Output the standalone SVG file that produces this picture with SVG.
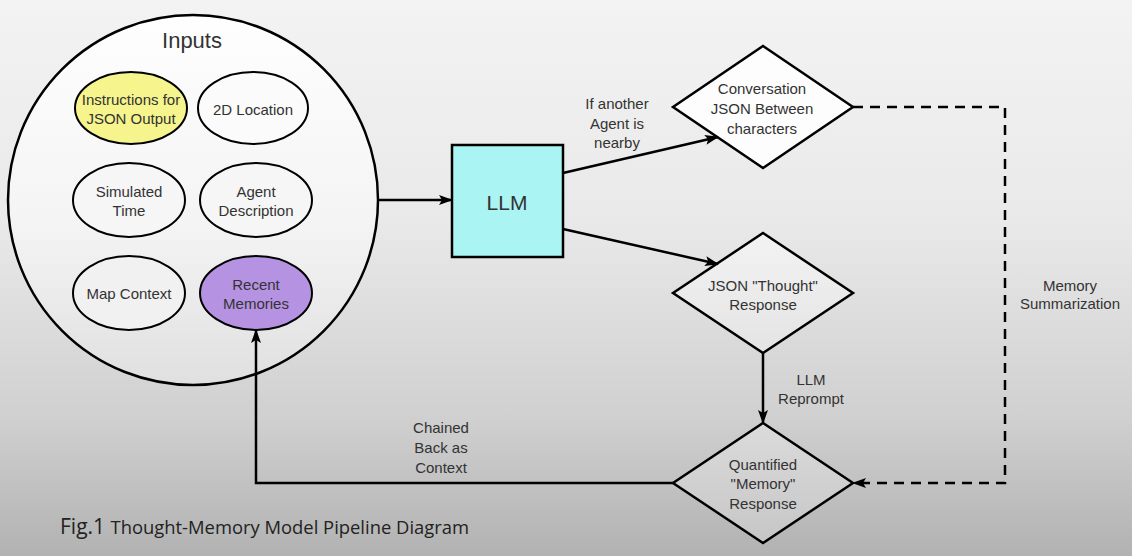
<svg xmlns="http://www.w3.org/2000/svg" width="1132" height="556" viewBox="0 0 1132 556">
<defs>
<linearGradient id="bg" gradientUnits="userSpaceOnUse" x1="0" y1="0" x2="0" y2="556">
<stop offset="0" stop-color="#f3f3f3"/>
<stop offset="0.4" stop-color="#e9e9e9"/>
<stop offset="0.75" stop-color="#d0d0d0"/>
<stop offset="1" stop-color="#b2b2b2"/>
</linearGradient>
<linearGradient id="shade" gradientUnits="userSpaceOnUse" x1="0" y1="0" x2="0" y2="556">
<stop offset="0" stop-color="#ffffff"/>
<stop offset="0.4" stop-color="#f4f4f4"/>
<stop offset="0.75" stop-color="#dcdcdc"/>
<stop offset="1" stop-color="#c4c4c4"/>
</linearGradient>
<marker id="arr" viewBox="0 0 14 10" refX="13" refY="5" markerWidth="14" markerHeight="10" markerUnits="userSpaceOnUse" orient="auto">
<path d="M0,0 L14,5 L0,10 L3,5 z" fill="#000"/>
</marker>
<style>
.shape{stroke:#000;stroke-width:2.5;}
.t{font-family:"Liberation Sans",Arial,sans-serif;font-size:15px;fill:#333;text-anchor:middle;}
.conn{fill:none;stroke:#000;stroke-width:2.5;marker-end:url(#arr);}
.dash{stroke-dasharray:10 7;}
</style>
</defs>
<rect x="0" y="0" width="1132" height="556" fill="url(#bg)"/>

<g id="inputs">
<circle class="shape" cx="193" cy="200" r="185" fill="url(#shade)"/>
<text class="t" x="192" y="48" style="font-size:22px">Inputs</text>
</g>
<g id="instructions">
<ellipse class="shape" cx="131" cy="108" rx="56" ry="36" fill="#f6f48c" style="stroke-width:2"/>
<text class="t" x="131" y="105">Instructions for</text>
<text class="t" x="131" y="124">JSON Output</text>
</g>
<g id="location">
<ellipse class="shape" cx="253" cy="108" rx="55" ry="36" fill="#fbfbfb" style="stroke-width:2"/>
<text class="t" x="253" y="114.5">2D Location</text>
</g>
<g id="time">
<ellipse class="shape" cx="129" cy="200" rx="56" ry="37" fill="#f6f6f6" style="stroke-width:2"/>
<text class="t" x="129" y="197">Simulated</text>
<text class="t" x="129" y="216">Time</text>
</g>
<g id="agent">
<ellipse class="shape" cx="256" cy="200" rx="56" ry="37" fill="#f6f6f6" style="stroke-width:2"/>
<text class="t" x="256" y="197">Agent</text>
<text class="t" x="256" y="216">Description</text>
</g>
<g id="map">
<ellipse class="shape" cx="129" cy="293" rx="56" ry="37" fill="#f1f1f1" style="stroke-width:2"/>
<text class="t" x="129" y="299">Map Context</text>
</g>
<g id="memories">
<ellipse class="shape" cx="256" cy="293" rx="56" ry="37" fill="#b592e2" style="stroke-width:2"/>
<text class="t" x="256" y="289.5">Recent</text>
<text class="t" x="256" y="308.5">Memories</text>
</g>

<g id="llm">
<rect class="shape" x="452" y="145" width="111" height="112" fill="#abf4f4"/>
<text class="t" x="507" y="210" style="font-size:21px">LLM</text>
</g>

<g id="conversation">
<polygon class="shape" points="763,46 853,107 763,168 673,107" fill="#fdfdfd"/>
<text class="t" x="762" y="93.5">Conversation</text>
<text class="t" x="762" y="114">JSON Between</text>
<text class="t" x="762" y="134">characters</text>
</g>
<g id="thought">
<polygon class="shape" points="763,233 853,293 763,353 673,293" fill="url(#shade)"/>
<text class="t" x="763" y="290.5">JSON "Thought"</text>
<text class="t" x="763" y="309.5">Response</text>
</g>
<g id="memory">
<polygon class="shape" points="763,423 853,483 763,543 673,483" fill="url(#shade)"/>
<text class="t" x="763" y="469.5">Quantified</text>
<text class="t" x="763" y="489">"Memory"</text>
<text class="t" x="763" y="508.5">Response</text>
</g>

<g id="connectors">
<line class="conn" x1="379" y1="200" x2="452" y2="200"/>
<line class="conn" x1="563" y1="173" x2="718" y2="137"/>
<line class="conn" x1="563" y1="229" x2="718" y2="264"/>
<line class="conn" x1="763" y1="353" x2="763" y2="423"/>
<polyline class="conn" points="673,483 256,483 256,330"/>
<polyline class="conn dash" points="853,107 1005,107 1005,483 853,483"/>
</g>

<g id="labels">
<text class="t" x="617" y="108.5">If another</text>
<text class="t" x="617" y="128.5">Agent is</text>
<text class="t" x="617" y="147.5">nearby</text>
<text class="t" x="811" y="384.5">LLM</text>
<text class="t" x="811" y="403.5">Reprompt</text>
<text class="t" x="1070" y="290.5">Memory</text>
<text class="t" x="1070" y="308.5">Summarization</text>
<text class="t" x="441" y="433">Chained</text>
<text class="t" x="441" y="453">Back as</text>
<text class="t" x="441" y="473">Context</text>
</g>

<g id="caption">
<text x="60" y="534" style="font-family:'Open Sans','Liberation Sans',sans-serif;fill:#222;font-size:21px">Fig.1 <tspan style="font-size:18.4px">Thought-Memory Model Pipeline Diagram</tspan></text>
</g>
</svg>
